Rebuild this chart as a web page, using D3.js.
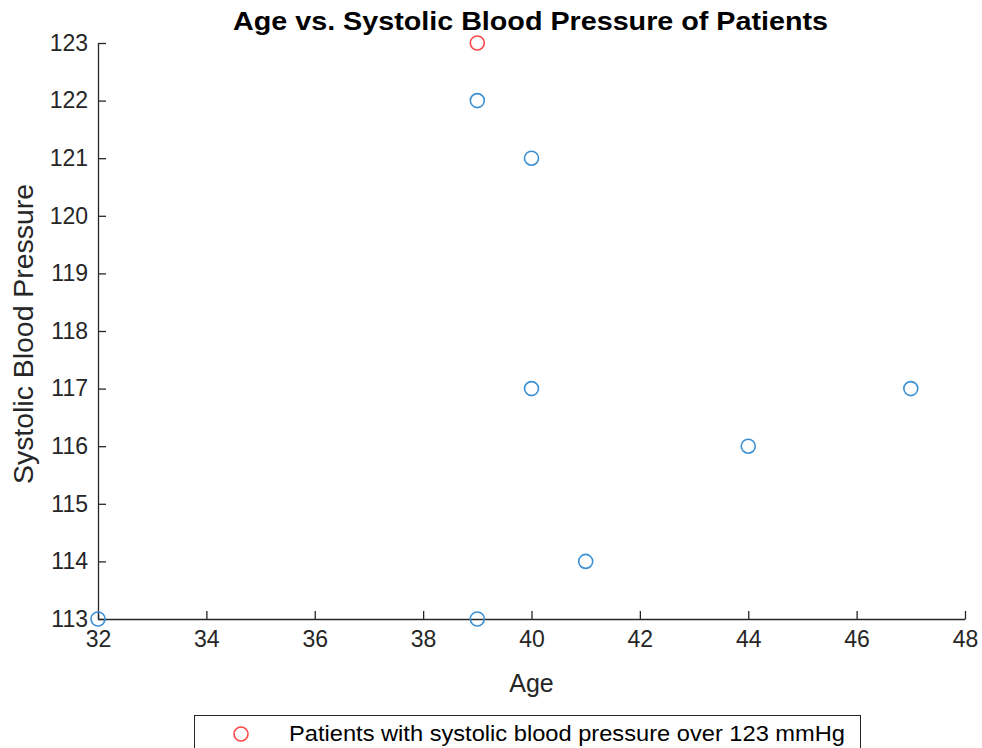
<!DOCTYPE html>
<html><head><meta charset="utf-8">
<script src="https://cdn.jsdelivr.net/npm/d3@7"></script>
<style>body{margin:0;background:#fff;}svg{display:block;font-family:"Liberation Sans",Arial,sans-serif;}</style>
</head><body>
<script>
const ages = [32, 39, 39, 40, 40, 41, 44, 47];
const pressures = [113, 113, 122, 121, 117, 114, 116, 117];
const highAges = [39];
const highPressures = [123];
const xTicks = [32, 34, 36, 38, 40, 42, 44, 46, 48];
const yTicks = [113, 114, 115, 116, 117, 118, 119, 120, 121, 122, 123];
const legendLabel = "Patients with systolic blood pressure over 123 mmHg";

const W = 982, H = 748;
const m = {l: 98, r: 17, t: 43, b: 129};
const svg = d3.select("body").append("svg").attr("width", W).attr("height", H);
const x = d3.scaleLinear().domain([32, 48]).range([m.l, W - m.r]);
const y = d3.scaleLinear().domain([113, 123]).range([H - m.b, m.t]);
const axisColor = "#262626";

const gx = svg.append("g").attr("transform", `translate(0,${H - m.b})`)
  .call(d3.axisBottom(x).tickValues(xTicks).tickSize(-8).tickPadding(12).tickSizeOuter(0));
const gy = svg.append("g").attr("transform", `translate(${m.l},0)`)
  .call(d3.axisLeft(y).tickValues(yTicks).tickSize(-8).tickPadding(10).tickSizeOuter(0));
[gx, gy].forEach(g => {
  g.select(".domain").attr("stroke", axisColor).attr("stroke-width", 1.3);
  g.selectAll(".tick line").attr("stroke", axisColor).attr("stroke-width", 1.3);
  g.selectAll(".tick text").attr("fill", "#262626").style("font-size", "23px").attr("font-family", "Liberation Sans, Arial, sans-serif");
});

svg.append("text").attr("x", 530.5).attr("y", 30).attr("text-anchor", "middle")
  .style("font-size", "25px").style("font-weight", "bold").attr("fill", "#000")
  .attr("textLength", 595).attr("lengthAdjust", "spacingAndGlyphs")
  .text("Age vs. Systolic Blood Pressure of Patients");
svg.append("text").attr("x", (m.l + W - m.r) / 2).attr("y", 692).attr("text-anchor", "middle")
  .style("font-size", "25px").attr("fill", "#262626").text("Age");
svg.append("text").attr("transform", `translate(33,334) rotate(-90)`).attr("text-anchor", "middle")
  .style("font-size", "27px").attr("fill", "#262626")
  .attr("textLength", 300).attr("lengthAdjust", "spacingAndGlyphs")
  .text("Systolic Blood Pressure");

const blue = "#3b90d4", red = "#ff4646";
svg.append("g").selectAll("circle").data(ages).join("circle")
  .attr("cx", (d) => x(d)).attr("cy", (d, i) => y(pressures[i])).attr("r", 7)
  .attr("fill", "none").attr("stroke", blue).attr("stroke-width", 1.6);
svg.append("g").selectAll("circle").data(highAges).join("circle")
  .attr("cx", (d) => x(d)).attr("cy", (d, i) => y(highPressures[i])).attr("r", 7)
  .attr("fill", "none").attr("stroke", red).attr("stroke-width", 1.6);

const lg = svg.append("g");
lg.append("rect").attr("x", 194.5).attr("y", 715.5).attr("width", 666).attr("height", 40)
  .attr("fill", "#fff").attr("stroke", "#262626").attr("stroke-width", 1);
lg.append("circle").attr("cx", 241).attr("cy", 734).attr("r", 7).attr("fill", "none").attr("stroke", red).attr("stroke-width", 1.6);
lg.append("text").attr("x", 289).attr("y", 741).style("font-size", "22px").attr("fill", "#000")
  .attr("textLength", 556).attr("lengthAdjust", "spacingAndGlyphs").text(legendLabel);
</script>
</body></html>
